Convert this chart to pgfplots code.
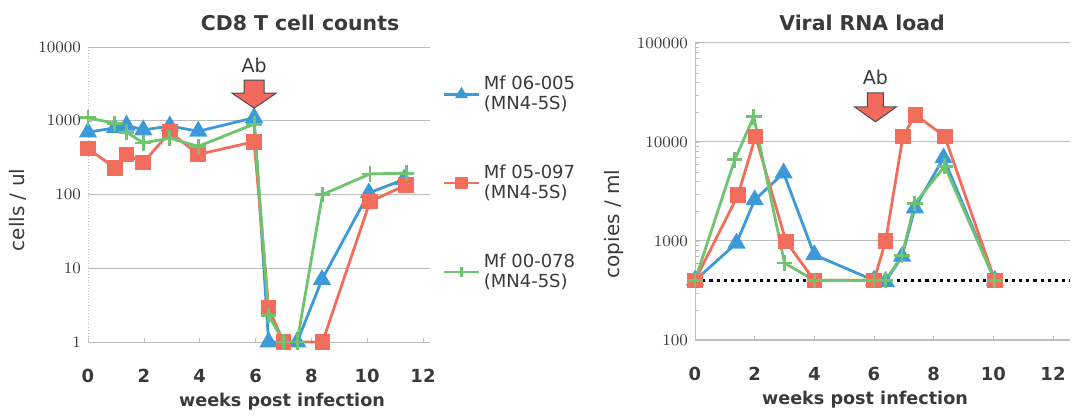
\documentclass[border=0pt]{standalone}
\usepackage{pgfplots}
\pgfplotsset{compat=1.18}
\usepackage{fontspec}
\setmainfont{DejaVu Sans}
\definecolor{cblue}{HTML}{3D9AD8}
\definecolor{cred}{HTML}{F26E5C}
\definecolor{cgreen}{HTML}{6FC46F}
\definecolor{txt}{HTML}{3A3A3A}
\definecolor{gridc}{HTML}{BDBDBD}
\definecolor{arrowred}{HTML}{F26A5E}
\pgfplotsset{
 mycommon/.style={
   scale only axis, xmin=0,
   xtick={0,2,...,12},
   log ticks with fixed point,
   /pgf/number format/1000 sep={},
   axis x line*=bottom, axis y line*=left,
   axis line style={gridc, line width=0.4pt, -},
   ymajorgrids, major grid style={gridc, line width=0.5pt},
   tick style={gridc}, major tick length=2pt, minor tick length=2pt,
   xticklabel style={font=\fontsize{9}{9}\selectfont\bfseries, text=txt, /pgf/number format/assume math mode=true, yshift=-10pt},
   yticklabel style={font=\fontsize{8}{8}\selectfont, text=txt},
   clip=false,
   every axis plot/.append style={line width=1.4pt},
 },
 sblue/.style={cblue, mark=triangle*, mark size=3.9pt},
 sred/.style={cred, mark=square*, mark size=3.2pt},
 sgreen/.style={cgreen, mark=+, mark size=3.9pt},
}
\begin{document}
\begin{tikzpicture}
\path[use as bounding box] (0,0) rectangle (536pt,-208.5pt);
% titles and labels
\node[font=\fontsize{10.2}{11}\selectfont\bfseries, text=txt] at (150pt,-11.5pt) {CD8 T cell counts};
\node[font=\fontsize{10.2}{11}\selectfont\bfseries, text=txt] at (431pt,-11.5pt) {Viral RNA load};
\node[font=\fontsize{8.8}{9}\selectfont\bfseries, text=txt] at (141pt,-201pt) {weeks post infection};
\node[font=\fontsize{8.8}{9}\selectfont\bfseries, text=txt] at (432.5pt,-200pt) {weeks post infection};
\node[font=\fontsize{10}{10}\selectfont, text=txt, rotate=90] at (9pt,-105pt) {cells / ul};
\node[font=\fontsize{10}{10}\selectfont, text=txt, rotate=90] at (307pt,-112pt) {copies / ml};

\begin{axis}[ymode=log, mycommon,
  at={(44pt,-171pt)}, anchor=south west,
  width=171pt, height=147.5pt,
  xmax=12.25, ymin=1, ymax=10000,
  ytick={1,10,100,1000,10000}, yminorticks=false,
  y axis line style={densely dotted},
  legend style={at={(1.02,0.93)}, anchor=north west, draw=none, fill=none,
    font=\fontsize{9}{10}\selectfont, text=txt, row sep=22pt,
    cells={anchor=west, align=left}},
  legend cell align=left,
  legend image post style={mark size=2.6pt, line width=1.2pt},
]
\addplot[sblue] coordinates {(0,700)(0.96,800)(1.38,870)(1.98,750)(2.93,850)(3.95,720)(5.95,1100)(6.47,1)(7.49,1)(8.38,7)(10.06,105)(11.32,160)};
\addlegendentry{Mf 06-005\\(MN4-5S)}
\addplot[sred] coordinates {(0,420)(0.96,230)(1.38,350)(1.98,270)(2.93,700)(3.95,350)(5.95,520)(6.47,2.9)(7.0,1)(8.4,1)(10.1,80)(11.4,135)};
\addlegendentry{Mf 05-097\\(MN4-5S)}
\addplot[sgreen] coordinates {(0,1100)(0.96,920)(1.38,700)(1.98,500)(2.93,580)(3.95,450)(5.95,900)(6.47,2.3)(7.0,1)(7.49,1)(8.4,100)(10.1,190)(11.4,195)};
\addlegendentry{Mf 00-078\\(MN4-5S)}
\coordinate (tipL) at (axis cs:5.95,1480);
\end{axis}

\begin{axis}[ymode=log, mycommon,
  at={(347.5pt,-170pt)}, anchor=south west,
  width=187.5pt, height=148.5pt,
  xmax=12.57, ymin=100, ymax=100000,
  ytick={100,1000,10000,100000},
]
\addplot[black, line width=1.6pt, dotted, mark=none] coordinates {(0,400)(12.57,400)};
\addplot[sblue] coordinates {(0,400)(1.39,950)(2,2600)(2.97,4850)(4,725)(6,400)(6.39,390)(6.94,700)(7.37,2150)(8.33,6900)(10.05,400)};
\addplot[sred] coordinates {(0,400)(1.44,2900)(2.03,11400)(3.05,990)(4,400)(6,400)(6.39,1000)(6.97,11400)(7.39,18800)(8.37,11400)(10.05,400)};
\addplot[sgreen] coordinates {(0,400)(1.33,6600)(1.97,18000)(3.0,600)(4,400)(6,400)(6.39,400)(6.94,720)(7.37,2400)(8.37,5700)(10.05,400)};
\coordinate (tipR) at (axis cs:6.05,16000);
\end{axis}
% Ab arrows
\draw[fill=arrowred, draw=black!70, line width=0.5pt] (tipL) -- ++(-11pt,7.5pt) -- ++(6pt,0pt) -- ++(0pt,6.5pt) -- ++(10pt,0pt) -- ++(0pt,-6.5pt) -- ++(6pt,0pt) -- cycle;
\node[font=\fontsize{9.5}{10}\selectfont, text=txt] at ([yshift=21.5pt]tipL) {Ab};
\draw[fill=arrowred, draw=black!70, line width=0.5pt] (tipR) -- ++(-10.5pt,7.5pt) -- ++(6.5pt,0pt) -- ++(0pt,7pt) -- ++(8pt,0pt) -- ++(0pt,-7pt) -- ++(6.5pt,0pt) -- cycle;
\node[font=\fontsize{9.5}{10}\selectfont, text=txt] at ([yshift=22pt]tipR) {Ab};
\end{tikzpicture}
\end{document}
